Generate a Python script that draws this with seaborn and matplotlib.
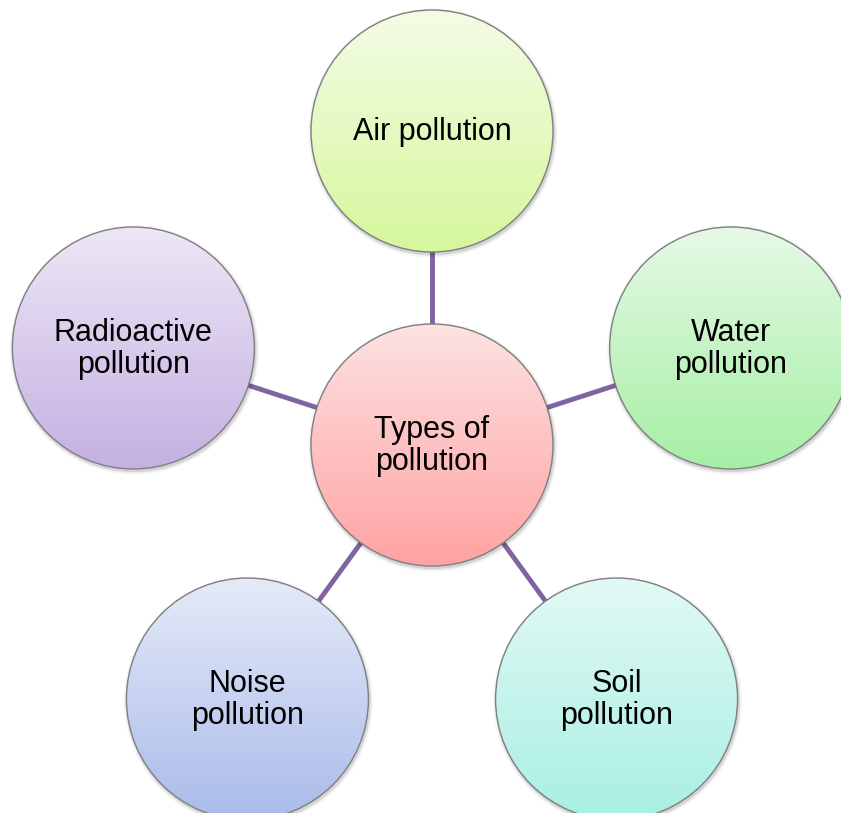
import numpy as np
import matplotlib.pyplot as plt
import seaborn as sns
from matplotlib.patches import Circle

sns.set_theme(style="white")
plt.rcParams["font.family"] = ["Liberation Sans", "DejaVu Sans"]

# node labels and gradient colours (top, bottom)
center_label = "Types of\npollution"
center_colors = ("#fde2e2", "#ffa3a3")
labels = ["Air pollution", "Water\npollution", "Soil\npollution",
          "Noise\npollution", "Radioactive\npollution"]
top_colors = ["#f4fce6", "#e6f9e6", "#e2f9f5", "#e6eaf8", "#eee7f6"]
bottom_colors = ["#d6f79c", "#a5efa5", "#a8efe3", "#a9bbeb", "#c4b0e2"]
angles = [90, 18, -54, -126, 162]

# layout (pixels)
cx, cy = 432, 445
dist = 314
rad = 121

fig = plt.figure(figsize=(8.41, 8.13), dpi=100)
ax = fig.add_axes([0, 0, 1, 1])

pos = [(cx + dist * np.cos(np.radians(a)), cy - dist * np.sin(np.radians(a))) for a in angles]

# spokes
for (x, y) in pos:
    ax.plot([cx, x], [cy, y], color="#8064a2", linewidth=3.5, zorder=1,
            solid_capstyle="butt")


def gradient(c1, c2, n=256):
    a = np.array(plt.matplotlib.colors.to_rgb(c1))
    b = np.array(plt.matplotlib.colors.to_rgb(c2))
    t = np.linspace(0, 1, n)[:, None]
    g = a * (1 - t) + b * t
    return np.repeat(g[:, None, :], 2, axis=1)


def node(x, y, text, c1, c2):
    # soft shadow
    for k, al in [(3.5, 0.04), (2.0, 0.06), (1.0, 0.08)]:
        ax.add_patch(Circle((x + 1, y + 2), rad + k, color="black", alpha=al, lw=0, zorder=2))
    circ = Circle((x, y), rad, facecolor="none", edgecolor="#7f7f7f", lw=1.0, zorder=4)
    ax.add_patch(circ)
    im = ax.imshow(gradient(c1, c2), extent=(x - rad, x + rad, y + rad, y - rad),
                   origin="upper", aspect="auto", zorder=3, interpolation="bilinear")
    im.set_clip_path(Circle((x, y), rad, transform=ax.transData))
    ax.text(x, y + 1, text, ha="center", va="center", fontsize=22, color="black",
            linespacing=1.08, zorder=5)


node(cx, cy, center_label, *center_colors)
for (x, y), lab, c1, c2 in zip(pos, labels, top_colors, bottom_colors):
    node(x, y, lab, c1, c2)

ax.set_xlim(0, 841)
ax.set_ylim(813, 0)
ax.set_aspect("equal")
ax.axis("off")
fig.savefig("out.png", dpi=100)
